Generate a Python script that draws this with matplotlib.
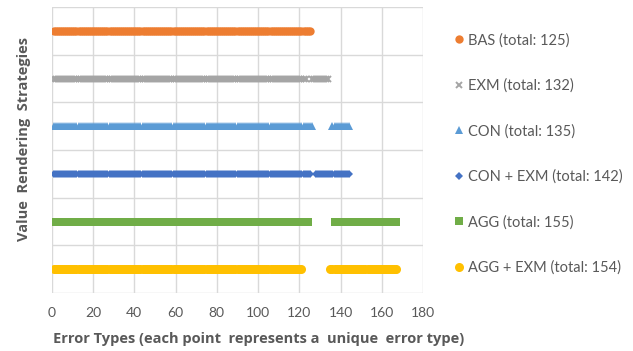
import matplotlib.pyplot as plt

# each strategy: runs of consecutive error-type ids (start, end inclusive)
strategies = ["BAS", "EXM", "CON", "CON + EXM", "AGG", "AGG + EXM"]
totals = [125, 132, 135, 142, 155, 154]
runs = [
    [(1, 125)],
    [(1, 123), (126, 134)],
    [(1, 126), (136, 144)],
    [(1, 125), (128, 144)],
    [(1, 124), (137, 167)],
    [(1, 121), (135, 167)],
]
rows = [5.5, 4.5, 3.5, 2.5, 1.5, 0.5]
colors = ["#ED7D31", "#A5A5A5", "#5B9BD5", "#4472C4", "#70AD47", "#FFC000"]
markers = ["o", "x", "^", "D", "s", "o"]
sizes = [6, 5, 6, 4.5, 6, 6.5]

x_ticks = list(range(0, 181, 20))

plt.rcParams["font.family"] = ["Lato", "DejaVu Sans"]
grey = "#595959"

fig = plt.figure(figsize=(6.33, 3.51), dpi=100)
ax = fig.add_axes([0.0817, 0.165, 0.587, 0.815])

for name, tot, rr, y, c, m, s in zip(strategies, totals, runs, rows, colors, markers, sizes):
    xs = [v for a, b in rr for v in range(a, b + 1)]
    ax.plot(xs, [y] * len(xs), linestyle="none", marker=m, color=c,
            markersize=s, markeredgewidth=1.4 if m == "x" else 0,
            label=f"{name} (total: {tot})")

ax.set_xlim(0, 180)
ax.set_ylim(0, 6)
ax.set_xticks(x_ticks)
ax.set_yticks(range(0, 7))
ax.set_yticklabels([])
ax.grid(True, color="#D9D9D9", linewidth=1)
ax.set_axisbelow(True)
for sp in ax.spines.values():
    sp.set_visible(False)
ax.tick_params(length=0, labelsize=10, labelcolor=grey, pad=10)

ax.set_xlabel("Error Types (each point  represents a  unique  error type)",
              fontsize=10.5, fontweight="bold", color=grey,
              family=["Open Sans", "DejaVu Sans"])
ax.xaxis.set_label_coords(0.558, -0.135)
ax.set_ylabel("Value  Rendering  Strategies", fontsize=10.5, fontweight="bold",
              color=grey, family=["Open Sans", "DejaVu Sans"])
ax.yaxis.set_label_coords(-0.055, 0.54)

leg = ax.legend(loc="upper left", bbox_to_anchor=(1.06, 0.93), frameon=False,
                fontsize=10.5, labelspacing=2.14, handletextpad=0.15,
                handlelength=1.0, borderaxespad=0)
for t in leg.get_texts():
    t.set_color(grey)

plt.savefig("out.png", dpi=100)
plt.close()
print("Saved: out.png")
